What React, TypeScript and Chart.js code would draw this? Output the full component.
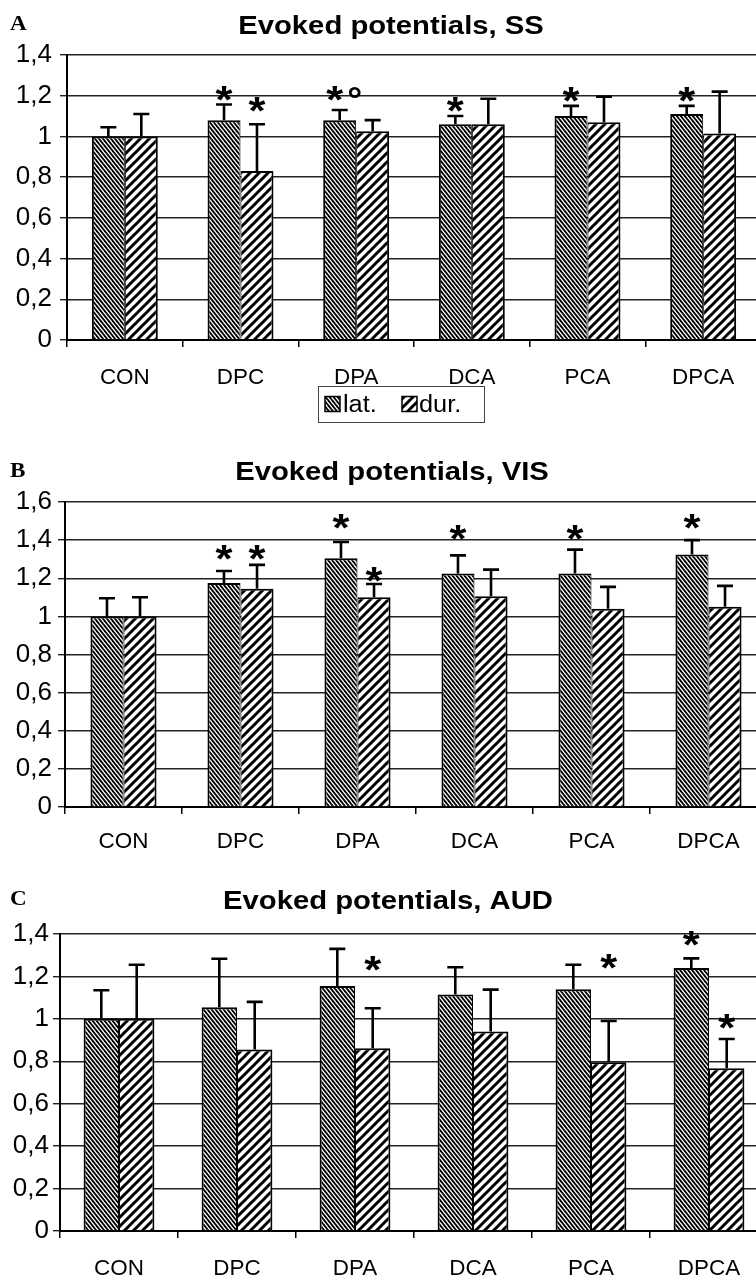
import React, { useEffect, useRef } from 'react';
import { Chart, registerables } from 'chart.js';

Chart.register(...registerables);

// ---------- data ----------
const categories = ['CON', 'DPC', 'DPA', 'DCA', 'PCA', 'DPCA'];
const seriesNames = ['lat.', 'dur.'];

// Panel A – SS
const ssLat = [1.0, 1.08, 1.08, 1.06, 1.1, 1.11];
const ssLatSd = [0.045, 0.077, 0.05, 0.04, 0.05, 0.04];
const ssDur = [1.0, 0.83, 1.025, 1.06, 1.07, 1.015];
const ssDurSd = [0.11, 0.23, 0.055, 0.125, 0.125, 0.205];
const ssLatMarks = ['', '*', '*°', '*', '*', '*'];
const ssLatMarkAt = [0, 1.21, 1.21, 1.16, 1.205, 1.205];
const ssDurMarks = ['', '*', '', '', '', ''];
const ssDurMarkAt = [0, 1.16, 0, 0, 0, 0];

// Panel B – VIS
const visLat = [1.0, 1.175, 1.305, 1.225, 1.225, 1.325];
const visLatSd = [0.095, 0.063, 0.085, 0.095, 0.125, 0.075];
const visDur = [1.0, 1.145, 1.1, 1.105, 1.04, 1.05];
const visDurSd = [0.1, 0.125, 0.07, 0.14, 0.115, 0.11];
const visLatMarks = ['', '*', '*', '*', '*', '*'];
const visLatMarkAt = [0, 1.335, 1.5, 1.44, 1.44, 1.5];
const visDurMarks = ['', '*', '*', '', '', ''];
const visDurMarkAt = [0, 1.335, 1.22, 0, 0, 0];

// Panel C – AUD
const audLat = [1.0, 1.055, 1.155, 1.115, 1.14, 1.24];
const audLatSd = [0.135, 0.228, 0.175, 0.128, 0.115, 0.045];
const audDur = [1.0, 0.855, 0.862, 0.94, 0.795, 0.767];
const audDurSd = [0.255, 0.225, 0.188, 0.198, 0.195, 0.138];
const audLatMarks = ['', '', '', '', '', '*'];
const audLatMarkAt = [0, 0, 0, 0, 0, 1.38];
const audDurMarks = ['', '', '*', '', '*', '*'];
const audDurMarkAt = [0, 0, 1.262, 0, 1.27, 0.99];

const yStep = 0.2;

// ---------- layout ----------
const W = 800;
const SANS = '"Liberation Sans", Arial, sans-serif';
const SERIF = '"Liberation Serif", "Times New Roman", serif';

type Series = { values: number[]; sd: number[]; marks: string[]; markAt: number[] };
type PanelDef = {
  letter: string;
  title: string;
  top: number;
  height: number;
  yMax: number;
  areaLeft: number;
  areaTop: number;
  areaBottom: number;
  areaRight: number;
  tickPad: number;
  catPct: number;
  titleX: number;
  titleY: number;
  letterY: number;
  labelY: number;
  series: Series[];
  legend?: { x: number; y: number; w: number; h: number };
};

const panels: PanelDef[] = [
  {
    letter: 'A', title: 'Evoked potentials, SS', top: 0, height: 430, yMax: 1.4,
    areaLeft: 67, areaTop: 55, areaBottom: 340, areaRight: 761, tickPad: 8, catPct: 0.57,
    titleX: 391, titleY: 25, letterY: 23, labelY: 376,
    series: [
      { values: ssLat, sd: ssLatSd, marks: ssLatMarks, markAt: ssLatMarkAt },
      { values: ssDur, sd: ssDurSd, marks: ssDurMarks, markAt: ssDurMarkAt },
    ],
    legend: { x: 318, y: 386, w: 166, h: 36 },
  },
  {
    letter: 'B', title: 'Evoked potentials, VIS', top: 430, height: 430, yMax: 1.6,
    areaLeft: 65, areaTop: 72, areaBottom: 377, areaRight: 767, tickPad: 6, catPct: 0.565,
    titleX: 392, titleY: 41, letterY: 40, labelY: 410,
    series: [
      { values: visLat, sd: visLatSd, marks: visLatMarks, markAt: visLatMarkAt },
      { values: visDur, sd: visDurSd, marks: visDurMarks, markAt: visDurMarkAt },
    ],
  },
  {
    letter: 'C', title: 'Evoked potentials, AUD', top: 860, height: 420, yMax: 1.4,
    areaLeft: 60, areaTop: 74, areaBottom: 371, areaRight: 768, tickPad: 4, catPct: 0.6,
    titleX: 388, titleY: 40, letterY: 38, labelY: 407,
    series: [
      { values: audLat, sd: audLatSd, marks: audLatMarks, markAt: audLatMarkAt },
      { values: audDur, sd: audDurSd, marks: audDurMarks, markAt: audDurMarkAt },
    ],
  },
];

// ---------- helpers ----------
function makeHatch(ctx: CanvasRenderingContext2D, w: number, h: number, lw: number, mirror: boolean) {
  const c = document.createElement('canvas');
  c.width = w;
  c.height = h;
  const g = c.getContext('2d')!;
  g.fillStyle = '#fff';
  g.fillRect(0, 0, w, h);
  if (mirror) {
    g.translate(w, 0);
    g.scale(-1, 1);
  }
  g.strokeStyle = '#000';
  g.lineWidth = lw;
  for (let k = -1; k <= 1; k++) {
    g.beginPath();
    g.moveTo(k * w - w, -h);
    g.lineTo(k * w + 2 * w, 2 * h);
    g.stroke();
  }
  return ctx.createPattern(c, 'repeat')!;
}

function drawFitted(ctx: CanvasRenderingContext2D, text: string, cx: number, cy: number, bw: number, bh: number) {
  ctx.save();
  ctx.font = `bold 100px ${SANS}`;
  ctx.textAlign = 'left';
  ctx.textBaseline = 'alphabetic';
  const m = ctx.measureText(text);
  const gw = m.actualBoundingBoxLeft + m.actualBoundingBoxRight;
  const gh = m.actualBoundingBoxAscent + m.actualBoundingBoxDescent;
  ctx.translate(cx, cy);
  ctx.scale(bw / gw, bh / gh);
  const gx = (m.actualBoundingBoxRight - m.actualBoundingBoxLeft) / 2;
  const gy = (m.actualBoundingBoxDescent - m.actualBoundingBoxAscent) / 2;
  ctx.fillStyle = '#000';
  ctx.fillText(text, -gx, -gy);
  ctx.restore();
}

function drawText(
  ctx: CanvasRenderingContext2D, text: string, x: number, capCenterY: number,
  font: string, size: number, sx: number, align: CanvasTextAlign, capRatio = 0.716,
) {
  ctx.save();
  ctx.font = font;
  ctx.textAlign = align;
  ctx.textBaseline = 'alphabetic';
  ctx.fillStyle = '#000';
  ctx.translate(x, capCenterY + (size * capRatio) / 2);
  ctx.scale(sx, 1);
  ctx.fillText(text, 0, 0);
  ctx.restore();
}

const fmt = (v: number | string) => {
  const n = Math.round(Number(v) * 10) / 10;
  return n.toString().replace('.', ',');
};

function buildConfig(p: PanelDef, ctx: CanvasRenderingContext2D): any {
  const latPat = makeHatch(ctx, 4, 5, 1.8, false);
  const durPat = makeHatch(ctx, 9, 9, 3, true);
  const patterns = [latPat, durPat];
  const H = p.height;

  const overlay = {
    id: 'overlay' + p.letter,
    afterDatasetsDraw(chart: any) {
      const c: CanvasRenderingContext2D = chart.ctx;
      const ys = chart.scales.y;
      p.series.forEach((s, i) => {
        const meta = chart.getDatasetMeta(i);
        meta.data.forEach((el: any, j: number) => {
          const x = el.x;
          const top = ys.getPixelForValue(s.values[j] + s.sd[j]);
          c.save();
          c.strokeStyle = '#000';
          c.lineWidth = 2.6;
          c.beginPath();
          c.moveTo(x, el.y);
          c.lineTo(x, top);
          c.moveTo(x - 8, top);
          c.lineTo(x + 8, top);
          c.stroke();
          c.restore();
          const mk = s.marks[j];
          if (mk) {
            const my = ys.getPixelForValue(s.markAt[j]);
            if (mk.length > 1) {
              drawFitted(c, '*', x - 5, my, 17, 15);
              drawFitted(c, '°', x + 15, my - 1, 12, 11);
            } else {
              drawFitted(c, '*', x, my, 17, 15);
            }
          }
        });
      });
    },
    afterDraw(chart: any) {
      const c: CanvasRenderingContext2D = chart.ctx;
      // title
      drawText(c, p.title, p.titleX, p.titleY, `bold 25px ${SANS}`, 25, 1.17, 'center');
      // panel letter
      drawText(c, p.letter, 10, p.letterY, `bold 21px ${SERIF}`, 21, 1.1, 'left', 0.662);
      // category labels
      const xs = chart.scales.x;
      categories.forEach((cat, i) => {
        drawText(c, cat, xs.getPixelForValue(i), p.labelY, `22px ${SANS}`, 22, 1.02, 'center');
      });
      // legend
      if (p.legend) {
        const L = p.legend;
        c.save();
        c.strokeStyle = '#444';
        c.lineWidth = 1;
        c.strokeRect(L.x + 0.5, L.y + 0.5, L.w, L.h);
        const swX = [L.x + 7, L.x + 84];
        const txX = [L.x + 25, L.x + 101];
        const cy = L.y + L.h / 2;
        seriesNames.forEach((name, i) => {
          c.fillStyle = patterns[i];
          c.fillRect(swX[i], cy - 7.5, 15, 15);
          c.strokeStyle = '#000';
          c.lineWidth = 1.5;
          c.strokeRect(swX[i], cy - 7.5, 15, 15);
          drawText(c, name, txX[i], cy, `23px ${SANS}`, 23, 1.1, 'left');
        });
        c.restore();
      }
    },
  };

  return {
    type: 'bar',
    data: {
      labels: categories,
      datasets: p.series.map((s, i) => ({
        label: seriesNames[i],
        data: s.values,
        backgroundColor: patterns[i],
        borderColor: '#000',
        borderWidth: i === 0 ? { top: 2, left: 2, right: 1, bottom: 0 } : { top: 2, left: 1, right: 2, bottom: 0 },
        categoryPercentage: p.catPct,
        barPercentage: 1,
      })),
    },
    options: {
      responsive: false,
      animation: false,
      devicePixelRatio: 1,
      layout: { padding: { left: 0, top: p.areaTop, right: W - p.areaRight, bottom: 0 } },
      plugins: { legend: { display: false }, title: { display: false }, tooltip: { enabled: false } },
      scales: {
        x: {
          grid: { display: true, drawOnChartArea: false, drawTicks: true, tickLength: 7, color: '#000', lineWidth: 1.5, offset: true },
          border: { display: true, color: '#000', width: 2 },
          ticks: { display: false },
          afterFit: (s: any) => { s.height = H - p.areaBottom; },
        },
        y: {
          min: 0,
          max: p.yMax,
          ticks: { stepSize: yStep, color: '#000', font: { family: SANS, size: 26 }, padding: p.tickPad, callback: fmt },
          grid: { color: '#222', lineWidth: 1.4, tickLength: 7, drawTicks: true },
          border: { display: true, color: '#000', width: 2 },
          afterFit: (s: any) => { s.width = p.areaLeft; },
        },
      },
    },
    plugins: [overlay],
  };
}

function Panel({ p }: { p: PanelDef }) {
  const ref = useRef<HTMLCanvasElement>(null);
  useEffect(() => {
    const canvas = ref.current!;
    const ctx = canvas.getContext('2d')!;
    const chart = new Chart(ctx, buildConfig(p, ctx));
    return () => chart.destroy();
  }, []);
  return (
    <canvas
      ref={ref}
      width={W}
      height={p.height}
      style={{ position: 'absolute', left: 0, top: p.top, width: W, height: p.height, display: 'block' }}
    />
  );
}

export default function App() {
  return (
    <div style={{ position: 'absolute', left: 0, top: 0, width: 756, height: 1280, overflow: 'hidden', background: '#fff' }}>
      {panels.map((p) => (
        <Panel key={p.letter} p={p} />
      ))}
    </div>
  );
}
